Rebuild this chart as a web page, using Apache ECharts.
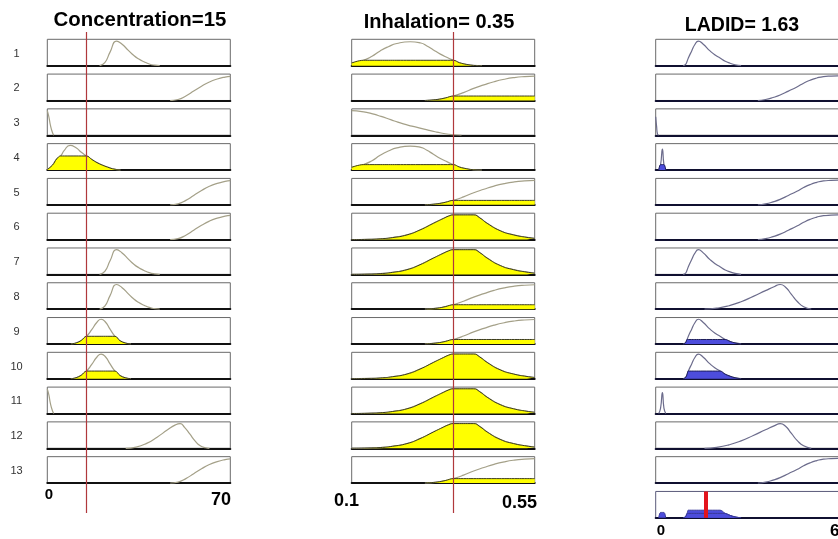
<!DOCTYPE html>
<html><head><meta charset="utf-8">
<script src="https://cdn.jsdelivr.net/npm/echarts/dist/echarts.min.js"></script>
<style>html,body{margin:0;padding:0;background:#fff}#c{width:838px;height:539px}</style>
</head><body><div id="c"></div>
<script>
// ---------- data ----------
const titles = ['Concentration=15', 'Inhalation= 0.35', 'LADID= 1.63'];
const inputValues = [15, 0.35];
const outputValue = 1.63;
const ranges = [[0, 70], [0.1, 0.55], [0, 6]];
const tickLabels = [['0', '70'], ['0.1', '0.55'], ['0', '6']];
const ruleLabels = ['1','2','3','4','5','6','7','8','9','10','11','12','13'];

// Concentration membership functions [x, mu]
const concA = [[20,0],[22,0.12],[24,0.55],[26.5,1],[28.5,0.88],[31,0.62],[33,0.42],[35,0.27],[37,0.16],[39,0.07],[41,0.02],[43,0]];
const concB = [[47,0],[50,0.04],[53,0.18],[56,0.38],[59,0.58],[62,0.75],[65,0.87],[68,0.95],[70,0.98]];
const concC = [[0,1],[0.6,0.75],[1.2,0.4],[2,0.1],[2.5,0]];
const concD = [[0,0.02],[2,0.2],[3.6,0.45],[5.1,0.57],[6.5,0.8],[8.7,1],[11,0.9],[13,0.72],[15,0.57],[17,0.43],[19,0.3],[21,0.2],[23,0.12],[25,0.05],[28,0]];
const concE = [[9,0],[11,0.04],[13,0.14],[15,0.31],[17,0.58],[19,0.88],[20.6,1],[22.3,0.88],[24,0.6],[25.9,0.31],[27.8,0.13],[29.8,0.04],[32,0]];
const concF = [[30,0],[34,0.05],[38,0.2],[42,0.45],[46,0.75],[49,0.95],[50.8,1],[52.5,0.85],[54.5,0.58],[56.5,0.3],[58.5,0.1],[60.5,0.02],[62,0]];

// Inhalation membership functions
const inhG = [[0.1,0.11],[0.129,0.22],[0.15,0.38],[0.17,0.6],[0.19,0.77],[0.211,0.9],[0.244,0.97],[0.27,0.92],[0.285,0.8],[0.3,0.65],[0.318,0.47],[0.335,0.33],[0.35,0.22],[0.365,0.12],[0.383,0.05],[0.4,0.01],[0.42,0]];
const inhH = [[0.28,0],[0.31,0.04],[0.33,0.1],[0.35,0.18],[0.375,0.32],[0.4,0.49],[0.425,0.63],[0.45,0.76],[0.475,0.86],[0.5,0.93],[0.525,0.97],[0.55,0.99]];
const inhI = [[0.1,1],[0.125,0.96],[0.145,0.9],[0.165,0.8],[0.186,0.69],[0.205,0.58],[0.227,0.46],[0.248,0.37],[0.268,0.29],[0.29,0.2],[0.309,0.13],[0.33,0.06],[0.35,0.02],[0.37,0]];
const inhJ = [[0.1,0],[0.14,0.01],[0.17,0.03],[0.2,0.08],[0.236,0.19],[0.268,0.39],[0.301,0.66],[0.326,0.86],[0.338,0.95],[0.35,1],[0.4,1],[0.415,0.88],[0.433,0.66],[0.465,0.36],[0.498,0.19],[0.531,0.09],[0.55,0.05]];

// LADID membership functions
const ladK = [[0.9,0],[0.98,0.05],[1.03,0.18],[1.07,0.31],[1.18,0.6],[1.28,0.85],[1.4,1],[1.55,0.88],[1.78,0.6],[1.95,0.43],[2.11,0.31],[2.28,0.18],[2.44,0.1],[2.6,0.04],[2.8,0]];
const ladL = [[3.35,0],[3.6,0.04],[3.85,0.12],[4.08,0.22],[4.35,0.38],[4.63,0.55],[4.85,0.7],[5.06,0.82],[5.28,0.91],[5.5,0.97],[5.75,0.99],[6,1]];
const ladM = [[0,0.75],[0.03,0.35],[0.06,0.05],[0.1,0]];
const ladN = [[0.1,0],[0.16,0.22],[0.22,0.85],[0.27,0.22],[0.33,0]];
const ladO = [[1.6,0],[2.0,0.04],[2.4,0.14],[2.8,0.3],[3.2,0.52],[3.6,0.75],[3.9,0.92],[4.08,1],[4.25,0.9],[4.45,0.6],[4.65,0.3],[4.85,0.1],[5.1,0]];

// rule table
const concRules = [concA, concB, concC, concD, concB, concB, concA, concA, concE, concE, concC, concF, concB];
const inhRules  = [inhG, inhH, inhI, inhG, inhH, inhJ, inhJ, inhH, inhH, inhJ, inhJ, inhJ, inhH];
const ladRules  = [ladK, ladL, ladM, ladN, ladL, ladL, ladK, ladO, ladK, ladK, ladN, ladO, ladL];
// membership degrees read at the input values
const concDeg = [0, 0, 0, 0.57, 0, 0, 0, 0, 0.31, 0.31, 0, 0, 0];
const inhDeg  = [0.22, 0.18, 0, 0.22, 0.18, 1, 1, 0.18, 0.18, 1, 1, 1, 0.18];

// ---------- layout ----------
const colLeft = [47.3, 351.7, 655.7];
const colW = 183;
const rowTop0 = 39.3, rowPitch = 34.78, rowH = 26.4;
const YMAX = 1.07;
const SMOOTH = 0.55;
const curveColor = ['#a4a088', '#a4a088', '#6c6c8c'];
const fillColor = ['#ffff00', '#ffff00', '#4d4ddc'];
const fillLine = ['#3a3a20', '#3a3a20', '#1e1e5a'];

const grids = [], xAxes = [], yAxes = [], series = [];
function addGrid(col, top, h, opts) {
  const idx = grids.length;
  grids.push(Object.assign({left: colLeft[col], top: top, width: colW, height: h, show: true,
    borderColor: '#6a6a6a', borderWidth: 1, backgroundColor: '#fff', containLabel: false, outerBoundsMode: 'none'}, opts || {}));
  xAxes.push({type: 'value', gridIndex: idx, min: ranges[col][0], max: ranges[col][1], position: 'bottom',
    axisLine: {show: true, onZero: false, lineStyle: {color: col === 2 ? '#101030' : '#111', width: 2}},
    axisTick: {show: false}, axisLabel: {show: false}, splitLine: {show: false}});
  yAxes.push({type: 'value', gridIndex: idx, min: 0, max: YMAX, show: false, splitLine: {show: false}});
  return idx;
}
function clip(mf, level) { return mf.map(p => [p[0], Math.min(p[1], level)]); }
function addCurve(idx, col, mf) {
  series.push({type: 'line', xAxisIndex: idx, yAxisIndex: idx, data: mf, smooth: SMOOTH,
    showSymbol: false, silent: true, z: 3, color: curveColor[col], lineStyle: {color: curveColor[col], width: 1.2}});
}
function addFill(idx, col, mf, level) {
  series.push({type: 'line', xAxisIndex: idx, yAxisIndex: idx, data: clip(mf, level), smooth: level < 1 ? 0.4 : SMOOTH,
    showSymbol: false, silent: true, z: 4, color: fillLine[col], lineStyle: {color: fillLine[col], width: 1},
    areaStyle: {color: fillColor[col], opacity: 1}});
}

const tables = [concRules, inhRules, ladRules];
for (let r = 0; r < 13; r++) {
  const top = rowTop0 + r * rowPitch;
  const strength = Math.min(concDeg[r], inhDeg[r]);
  const levels = [concDeg[r], inhDeg[r], strength];
  for (let c = 0; c < 3; c++) {
    const idx = addGrid(c, top, rowH);
    addCurve(idx, c, tables[c][r]);
    if (levels[c] > 0) addFill(idx, c, tables[c][r], levels[c]);
  }
}
// aggregated output row
const aggIdx = addGrid(2, rowTop0 + 13 * rowPitch, rowH, {borderColor: '#5a5a7a'});
for (let r = 0; r < 13; r++) {
  const s = Math.min(concDeg[r], inhDeg[r]);
  if (s > 0) {
    series.push({type: 'line', xAxisIndex: aggIdx, yAxisIndex: aggIdx, data: clip(ladRules[r], s), smooth: 0.4,
      showSymbol: false, silent: true, z: 3, color: '#3a3a9a', lineStyle: {color: '#3a3a9a', width: 1},
      areaStyle: {color: fillColor[2], opacity: 1}});
  }
}
series.push({type: 'line', xAxisIndex: aggIdx, yAxisIndex: aggIdx, data: [], silent: true, z: 6, color: '#e3141c',
  markLine: {silent: true, symbol: 'none', animation: false, label: {show: false},
    itemStyle: {color: '#e3141c'},
    lineStyle: {color: '#e3141c', width: 4, type: 'solid'}, data: [{xAxis: outputValue}]}});

// input value lines spanning all rule rows
for (let c = 0; c < 2; c++) {
  const idx = grids.length;
  grids.push({left: colLeft[c], top: 32, width: colW, height: 481, show: false, containLabel: false, outerBoundsMode: 'none'});
  xAxes.push({type: 'value', gridIndex: idx, min: ranges[c][0], max: ranges[c][1], show: false});
  yAxes.push({type: 'value', gridIndex: idx, min: 0, max: 1, show: false});
  series.push({type: 'line', xAxisIndex: idx, yAxisIndex: idx, data: [], silent: true, z: 10, color: '#b0383c',
    markLine: {silent: true, symbol: 'none', animation: false, label: {show: false},
      itemStyle: {color: '#b0383c'},
      lineStyle: {color: '#b0383c', width: 1.2, type: 'solid'}, data: [{xAxis: inputValues[c]}]}});
}

// ---------- texts ----------
const FONT = '"Liberation Sans", Arial, sans-serif';
const graphic = [];
function txt(text, x, y, size, bold, align, color) {
  graphic.push({type: 'text', x: x, y: y, silent: true, z: 20,
    style: {text: text, font: (bold ? 'bold ' : '') + size + 'px ' + FONT, fill: color || '#000',
      align: align, verticalAlign: 'middle', textAlign: align, textVerticalAlign: 'middle'}});
}
txt(titles[0], 140, 20, 20.4, true, 'center');
txt(titles[1], 439, 22.5, 20, true, 'center');
txt(titles[2], 742, 25.5, 19.5, true, 'center');
for (let r = 0; r < 13; r++) txt(ruleLabels[r], 16.5, rowTop0 + r * rowPitch + rowH / 2 + 1, 11, false, 'center', '#333');
txt(tickLabels[0][0], 49, 495, 15, true, 'center');
txt(tickLabels[0][1], 231, 500.5, 18, true, 'right');
txt(tickLabels[1][0], 346.5, 501.5, 18, true, 'center');
txt(tickLabels[1][1], 537, 503, 18, true, 'right');
txt(tickLabels[2][0], 661, 531, 15, true, 'center');
txt(tickLabels[2][1], 830, 531, 17, true, 'left');

const chart = echarts.init(document.getElementById('c'), null, {renderer: 'canvas'});
chart.setOption({animation: false, backgroundColor: '#fff', grid: grids, xAxis: xAxes, yAxis: yAxes, series: series, graphic: graphic});
</script></body></html>
